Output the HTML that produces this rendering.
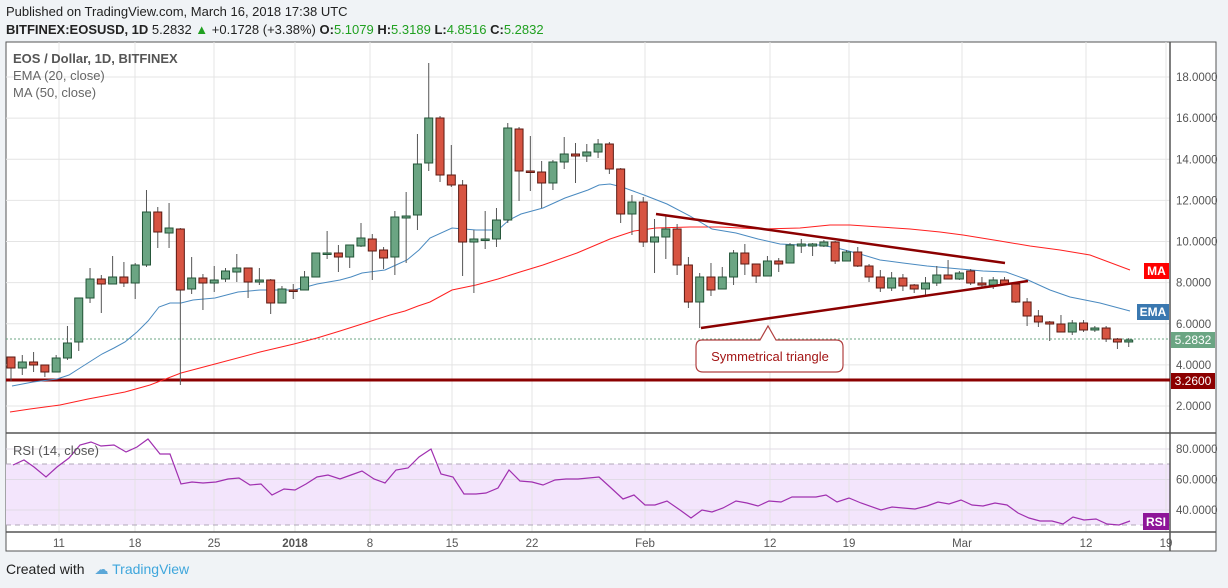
<!DOCTYPE html>
<html><head><meta charset="utf-8"><style>
body{margin:0;width:1228px;height:588px;background:#f0f3f6;font-family:"Liberation Sans",sans-serif;overflow:hidden;position:relative}
.h1{position:absolute;left:6px;top:4px;font-size:13px;color:#222}
.h2{position:absolute;left:6px;top:22px;font-size:13px;color:#222}
.g{color:#20a020}
.ft{position:absolute;left:6px;top:561px;font-size:14px;color:#222}
</style></head><body>
<div class="h1">Published on TradingView.com, March 16, 2018 17:38 UTC</div>
<div class="h2"><b>BITFINEX:EOSUSD, 1D</b> 5.2832 <span class="g">▲</span> +0.1728 (+3.38%) <b>O:</b><span class="g">5.1079</span> <b>H:</b><span class="g">5.3189</span> <b>L:</b><span class="g">4.8516</span> <b>C:</b><span class="g">5.2832</span></div>
<svg id="s" width="1228" height="588" style="position:absolute;left:0;top:0" xmlns="http://www.w3.org/2000/svg"></svg>
<div class="ft">Created with <span style="color:#5aa7d8;margin-left:6px">☁</span> <span style="color:#3ea6dc">TradingView</span></div>
<script>
var s=document.getElementById('s'),h='';
function L(x1,y1,x2,y2,c,w,d){h+='<line x1="'+x1+'" y1="'+y1+'" x2="'+x2+'" y2="'+y2+'" stroke="'+c+'" stroke-width="'+(w||1)+'"'+(d?' stroke-dasharray="'+d+'"':'')+'/>';}
function T(x,y,t,c,sz,a,b){h+='<text x="'+x+'" y="'+y+'" fill="'+c+'" font-size="'+sz+'" font-family="Liberation Sans, sans-serif"'+(a?' text-anchor="'+a+'"':'')+(b?' font-weight="bold"':'')+'>'+t+'</text>';}
function P(pts,c,w){h+='<polyline fill="none" stroke="'+c+'" stroke-width="'+(w||1)+'" points="'+pts.map(p=>p.join(',')).join(' ')+'"/>';}
h+='<rect x="6" y="42" width="1210" height="509" fill="#fff" stroke="#555"/>';
h+='<rect x="6" y="464" width="1164" height="61" fill="#f3e5fc"/>';
var vx=[59,135,214,295,370,452,532,645,770,849,962,1086,1166];
vx.forEach(x=>L(x,42,x,532,'#e4e4e4'));
for(var p=2;p<=18;p+=2){var y=406-(p-2)*20.56;L(6,y,1170,y,'#e4e4e4');T(1176,y+4,p.toFixed(4),'#555',11.5);}
[[80,449],[60,479.5],[40,510]].forEach(a=>{L(6,a[1],1170,a[1],'#e0dbe6');T(1176,a[1]+4,a[0].toFixed(4),'#555',11.5);});
L(6,464,1170,464,'#b0a8b8',1,'5,4');L(6,525,1170,525,'#b0a8b8',1,'5,4');
L(6,433,1216,433,'#555',1.5);L(6,532,1216,532,'#555',1.5);L(1170,42,1170,551,'#555',1.5);
var xl=[[59,'11'],[135,'18'],[214,'25'],[295,'2018'],[370,'8'],[452,'15'],[532,'22'],[645,'Feb'],[770,'12'],[849,'19'],[962,'Mar'],[1086,'12'],[1166,'19']];
xl.forEach(a=>T(a[0],547,a[1],'#555',11.5,'middle',a[1]=='2018'));
L(6,339,1170,339,'#6ba583',1,'2,2');
h+='<rect x="6" y="378.5" width="1164" height="3" fill="#8b0000"/>';
var ma=[[10,412],[30,409],[60,405],[88,399],[125,392],[150,385],[181,373],[215,364],[260,352],[294,344],[317,338],[340,331],[362,324],[390,315],[405,311],[418,306],[430,302],[452,290],[476,285],[498,279],[520,272],[543,265],[577,253],[610,239],[634,231],[656,228],[690,227],[720,227],[760,229],[800,228],[830,225],[850,225],[880,227],[910,229],[940,232],[963,235],[1000,241],[1030,246],[1060,250],[1090,255],[1130,270]];
P(ma,'#ff2020');
var ema=[[12,386],[33,382],[57,379],[69,375],[80,368],[91,361],[102,354],[114,348],[125,342],[137,332],[148,321],[159,307],[170,303],[181,303],[193,300],[215,298],[238,292],[260,290],[283,290],[294,290],[306,287],[317,284],[340,280],[351,277],[362,273],[385,270],[396,265],[407,260],[419,250],[430,238],[452,228],[476,230],[498,230],[509,220],[521,214],[543,208],[565,198],[588,190],[599,185],[610,184],[622,187],[644,195],[667,204],[690,216],[712,229],[736,233],[758,239],[780,244],[800,245],[820,245],[837,248],[860,254],[880,260],[903,263],[927,266],[960,269],[983,271],[1006,272],[1028,280],[1050,290],[1070,297],[1100,303],[1130,311]];
P(ema,'#4a8ac0');
var c=[[357,368,357,381,0],[362,368,355,375,1],[362,365,352,372,0],[365,372,365,377,0],[358,372,355,372,1],[343,358,326,360,1],[298,342,298,351,1],[279,298,268,303,1],[279,284,275,313,0],[277,284,256,284,1],[277,283,262,287,0],[265,283,263,299,1],[212,265,190,267,1],[212,232,207,248,0],[228,233,203,248,1],[229,290,228,385,0],[278,289,257,294,1],[278,283,274,310,0],[280,283,266,292,1],[271,279,268,282,1],[268,272,254,282,1],[268,282,268,298,0],[280,282,268,285,1],[280,303,279,314,0],[289,303,286,303,1],[290,291,284,299,0],[277,290,271,290,1],[253,277,253,277,1],[253,254,231,259,1],[253,257,245,272,0],[245,257,245,268,1],[238,246,223,247,1],[239,251,234,280,0],[250,258,247,269,0],[217,257,211,275,1],[216,218,192,263,1],[164,215,134,230,1],[118,163,63,171,1],[118,175,116,182,0],[175,185,145,187,0],[185,242,180,276,0],[239,242,230,293,1],[239,240,211,249,1],[220,239,208,247,1],[128,220,123,223,1],[129,171,127,201,0],[171,172,136,191,0],[172,183,161,208,0],[162,183,160,190,1],[154,162,137,169,1],[154,156,143,183,0],[152,156,144,162,1],[144,152,139,158,1],[144,169,142,174,0],[169,214,168,223,0],[202,214,195,235,1],[202,242,197,247,0],[237,242,219,273,1],[229,237,215,259,1],[229,265,224,275,0],[265,302,257,308,0],[277,302,273,328,1],[277,290,263,296,0],[277,289,267,289,1],[253,277,250,285,1],[253,264,244,275,0],[264,276,264,283,0],[261,276,256,276,1],[261,264,258,272,0],[245,263,243,263,1],[244,246,239,253,1],[244,246,243,256,1],[242,246,240,247,1],[242,261,241,264,0],[252,261,250,261,1],[252,266,247,267,0],[266,277,264,282,0],[277,288,270,292,0],[278,288,272,291,1],[278,286,274,291,0],[285,289,284,293,0],[283,289,277,295,1],[275,283,266,286,1],[275,279,260,279,0],[273,279,271,280,1],[271,283,269,285,0],[283,285,277,287,0],[280,285,277,289,1],[280,284,277,285,0],[284,302,283,303,0],[302,316,298,326,0],[316,322,310,327,0],[322,324,321,341,0],[324,332,315,332,0],[323,332,320,335,1],[323,330,320,332,0],[328,330,326,332,1],[328,339,326,342,0],[339,342,338,349,0],[340,342,338,347,1]];
c.forEach((k,i)=>{var x=11+i*11.29,fc=k[4]?'#6ba583':'#d75442',sc=k[4]?'#225437':'#5b1a13';
L(x,k[2],x,k[3],'#555');var hh=Math.max(k[1]-k[0],1.5);h+='<rect x="'+(x-4)+'" y="'+k[0]+'" width="8" height="'+hh+'" fill="'+fc+'" stroke="'+sc+'"/>';});
L(656,214,1005,263,'#8b0000',2.5);L(701,328,1028,281,'#8b0000',2.5);
h+='<path d="M702,340 H760 L768,326 L776,340 H836 Q843,340 843,347 V365 Q843,372 836,372 H703 Q696,372 696,365 V347 Q696,340 702,340Z" fill="#fff" stroke="#b04040" stroke-width="1.2"/>';
T(770,361,'Symmetrical triangle','#a31515',13,'middle');
var rsi=[[13,465],[24,460],[34,467],[46,477],[57,467],[69,458],[80,445],[91,442],[101,446],[114,445],[126,452],[137,447],[148,439],[160,454],[170,454],[181,484],[192,482],[203,483],[216,482],[228,479],[239,478],[250,485],[261,484],[272,495],[284,489],[295,490],[306,484],[317,477],[328,475],[340,479],[351,475],[362,471],[374,479],[385,483],[396,470],[408,468],[419,457],[431,449],[441,474],[453,477],[464,494],[476,494],[486,493],[498,488],[509,470],[520,481],[532,482],[543,485],[555,480],[566,479],[578,479],[599,477],[610,487],[623,499],[634,495],[645,505],[655,505],[667,501],[680,510],[691,518],[702,510],[712,512],[723,508],[736,501],[747,503],[758,506],[769,501],[781,502],[792,497],[816,497],[826,495],[837,502],[849,498],[861,503],[881,510],[892,507],[903,508],[915,509],[927,506],[938,502],[949,504],[961,500],[972,505],[983,506],[995,503],[1007,505],[1018,513],[1029,518],[1040,521],[1052,521],[1063,524],[1073,517],[1084,520],[1096,519],[1107,524],[1119,525],[1130,521]];
P(rsi,'#a030b0',1.2);
T(13,63,'EOS / Dollar, 1D, BITFINEX','#555',13,null,true);
T(13,80,'EMA (20, close)','#666',13);T(13,97,'MA (50, close)','#666',13);
T(13,455,'RSI (14, close)','#555',13);
function tag(x,y,w,hh,bg,t){h+='<rect x="'+x+'" y="'+y+'" width="'+w+'" height="'+hh+'" fill="'+bg+'"/>';T(x+w/2,y+hh-4,t,'#fff',12,'middle',/[A-Z]/.test(t));}
tag(1144,263,25,16,'#ff0000','MA');tag(1137,304,32,16,'#3a78b0','EMA');tag(1143,513,26,17,'#8e1599','RSI');
tag(1171,332,44,16,'#6ba583','5.2832');tag(1171,373,44,16,'#8b0000','3.2600');
s.innerHTML=h;
</script>
</body></html>
